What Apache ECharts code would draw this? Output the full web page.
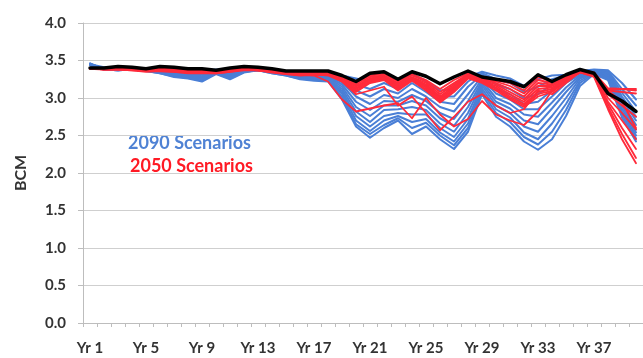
<!DOCTYPE html>
<html>
<head>
<meta charset="utf-8">
<script src="https://cdn.jsdelivr.net/npm/echarts@6/dist/echarts.min.js"></script>
<style>
  html, body { margin: 0; padding: 0; background: #ffffff; }
  #chart { width: 643px; height: 358px; }
</style>
</head>
<body>
<div id="chart"></div>
<script>
// Simulated annual volume (BCM) for each year of the 40-year sequence
var years = [];
for (var y = 1; y <= 40; y++) years.push('Yr ' + y);

var yTicks = [0.0, 0.5, 1.0, 1.5, 2.0, 2.5, 3.0, 3.5, 4.0];

// Baseline run
var baseline = [3.40,3.40,3.42,3.41,3.39,3.42,3.41,3.39,3.39,3.37,3.40,3.42,3.41,3.39,3.36,3.36,3.36,
  3.36,3.30,3.22,3.33,3.35,3.25,3.35,3.29,3.19,3.28,3.36,3.28,3.25,3.22,3.15,3.31,3.22,3.31,3.38,3.33,3.06,2.96,2.82];

// 2090 climate scenarios
var s2090_a = [3.45,3.41,3.41,3.40,3.40,3.40,3.39,3.38,3.36,3.38,3.37,3.40,3.40,3.38,3.36,3.34,3.34,
  3.32,3.30,3.26,3.22,3.28,3.18,3.32,3.22,3.10,3.12,3.28,3.35,3.30,3.26,3.16,3.25,3.30,3.31,3.36,3.38,3.37,3.20,2.98];
var s2090_b = [3.44,3.40,3.40,3.40,3.39,3.39,3.38,3.36,3.34,3.37,3.35,3.39,3.40,3.37,3.35,3.33,3.33,
  3.31,3.27,3.18,3.12,3.20,3.12,3.26,3.16,3.02,3.02,3.22,3.33,3.25,3.20,3.08,3.15,3.25,3.30,3.35,3.37,3.36,3.12,2.90];
var s2090_c = [3.45,3.39,3.39,3.39,3.39,3.38,3.37,3.35,3.33,3.37,3.34,3.38,3.39,3.37,3.35,3.32,3.32,
  3.30,3.24,3.10,3.02,3.12,3.06,3.20,3.08,2.95,2.92,3.15,3.31,3.18,3.12,3.00,3.05,3.18,3.28,3.34,3.37,3.35,3.07,2.82];
var s2090_d = [3.44,3.39,3.38,3.39,3.38,3.37,3.35,3.33,3.31,3.36,3.32,3.38,3.39,3.36,3.34,3.31,3.30,
  3.29,3.21,3.02,2.92,3.04,3.00,3.12,3.02,2.88,2.82,3.05,3.29,3.12,3.05,2.92,2.95,3.10,3.25,3.33,3.36,3.34,3.02,2.75];
var s2090_e = [3.46,3.38,3.38,3.39,3.38,3.36,3.34,3.32,3.29,3.35,3.31,3.37,3.39,3.36,3.33,3.30,3.29,
  3.28,3.18,2.95,2.84,2.96,2.95,3.04,2.96,2.80,2.72,2.96,3.26,3.06,2.98,2.85,2.85,3.02,3.20,3.31,3.36,3.33,2.98,2.70];
var s2090_f = [3.45,3.39,3.38,3.38,3.38,3.35,3.33,3.31,3.28,3.35,3.30,3.37,3.38,3.35,3.33,3.29,3.28,
  3.27,3.15,2.88,2.76,2.90,2.90,2.96,2.90,2.73,2.63,2.88,3.23,3.00,2.92,2.78,2.75,2.94,3.14,3.30,3.35,3.31,2.94,2.64];
var s2090_g = [3.44,3.38,3.37,3.39,3.37,3.35,3.32,3.30,3.27,3.34,3.29,3.36,3.38,3.35,3.32,3.28,3.27,
  3.26,3.12,2.82,2.68,2.84,2.85,2.88,2.84,2.66,2.55,2.80,3.20,2.95,2.86,2.70,2.65,2.86,3.08,3.28,3.35,3.30,2.90,2.58];
var s2090_h = [3.45,3.38,3.37,3.38,3.37,3.34,3.31,3.29,3.26,3.34,3.28,3.36,3.38,3.34,3.32,3.27,3.26,
  3.25,3.09,2.76,2.62,2.76,2.80,2.78,2.78,2.60,2.48,2.72,3.17,2.90,2.80,2.62,2.55,2.76,3.00,3.26,3.34,3.28,2.86,2.54];
var s2090_i = [3.44,3.39,3.38,3.38,3.37,3.34,3.30,3.28,3.25,3.33,3.27,3.35,3.37,3.34,3.31,3.27,3.25,
  3.24,3.06,2.70,2.56,2.70,2.76,2.68,2.72,2.54,2.42,2.66,3.13,2.85,2.74,2.54,2.45,2.66,2.92,3.23,3.34,3.27,2.82,2.50];
var s2090_j = [3.45,3.38,3.37,3.38,3.36,3.33,3.29,3.27,3.23,3.33,3.26,3.35,3.37,3.33,3.30,3.26,3.24,
  3.23,3.02,2.65,2.52,2.64,2.73,2.60,2.67,2.50,2.37,2.60,3.09,2.80,2.68,2.48,2.38,2.55,2.84,3.20,3.33,3.25,2.78,2.46];
var s2090_k = [3.46,3.38,3.37,3.38,3.36,3.33,3.28,3.26,3.22,3.32,3.25,3.34,3.37,3.33,3.30,3.25,3.23,
  3.22,2.98,2.62,2.47,2.60,2.70,2.52,2.62,2.45,2.32,2.55,3.05,2.75,2.62,2.42,2.31,2.45,2.76,3.16,3.32,3.24,2.74,2.42];

// 2050 climate scenarios
var s2050_a = [3.40,3.40,3.40,3.40,3.38,3.39,3.38,3.37,3.37,3.36,3.38,3.40,3.39,3.37,3.35,3.34,3.34,
  3.35,3.30,3.20,3.30,3.32,3.22,3.32,3.24,3.12,3.24,3.33,3.28,3.24,3.20,3.10,3.28,3.22,3.30,3.37,3.34,3.13,3.12,3.12];
var s2050_b = [3.40,3.39,3.40,3.39,3.37,3.38,3.38,3.36,3.36,3.35,3.37,3.39,3.39,3.36,3.34,3.33,3.34,
  3.34,3.28,3.18,3.28,3.30,3.20,3.30,3.22,3.08,3.20,3.32,3.26,3.22,3.16,3.06,3.24,3.20,3.28,3.37,3.33,3.10,3.08,3.06];
var s2050_c = [3.39,3.39,3.39,3.39,3.37,3.38,3.37,3.36,3.36,3.35,3.37,3.39,3.38,3.36,3.34,3.33,3.33,
  3.34,3.27,3.16,3.26,3.29,3.18,3.28,3.20,3.05,3.18,3.31,3.25,3.20,3.12,3.02,3.20,3.18,3.27,3.36,3.32,3.05,2.90,2.75];
var s2050_d = [3.40,3.39,3.39,3.38,3.37,3.37,3.37,3.35,3.35,3.34,3.36,3.39,3.38,3.36,3.33,3.32,3.33,
  3.33,3.26,3.15,3.25,3.28,3.16,3.27,3.18,3.02,3.16,3.30,3.24,3.18,3.08,2.98,3.16,3.16,3.26,3.36,3.31,3.00,2.80,2.58];
var s2050_e = [3.39,3.39,3.39,3.38,3.36,3.37,3.36,3.35,3.35,3.34,3.36,3.38,3.38,3.35,3.33,3.32,3.32,
  3.33,3.25,3.13,3.24,3.27,3.15,3.26,3.16,3.00,3.14,3.29,3.23,3.16,3.05,2.95,3.12,3.14,3.25,3.35,3.30,2.95,2.70,2.45];
var s2050_f = [3.40,3.38,3.38,3.38,3.36,3.37,3.36,3.34,3.34,3.34,3.36,3.38,3.37,3.35,3.33,3.31,3.32,
  3.32,3.24,3.12,3.22,3.26,3.14,3.25,3.14,2.98,3.12,3.28,3.22,3.14,3.02,2.92,3.08,3.12,3.24,3.35,3.30,2.92,2.60,2.32];
var s2050_g = [3.39,3.38,3.38,3.37,3.36,3.36,3.35,3.34,3.34,3.33,3.35,3.38,3.37,3.35,3.32,3.31,3.31,
  3.32,3.23,3.10,3.21,3.25,3.12,3.24,3.12,2.96,3.10,3.27,3.21,3.12,3.00,2.90,3.05,3.10,3.23,3.34,3.29,2.88,2.52,2.20];
var s2050_h = [3.40,3.38,3.38,3.37,3.35,3.36,3.35,3.33,3.33,3.33,3.35,3.37,3.37,3.34,3.32,3.30,3.31,
  3.31,3.22,3.08,3.20,3.24,3.10,3.23,3.10,2.94,3.08,3.26,3.20,3.10,2.98,2.88,3.02,3.08,3.22,3.34,3.28,2.85,2.45,2.13];
var s2050_i = [3.39,3.39,3.39,3.38,3.36,3.37,3.36,3.34,3.34,3.34,3.36,3.38,3.37,3.35,3.33,3.31,3.30,
  3.22,2.98,2.82,2.86,2.90,2.93,2.73,3.00,2.78,2.62,2.72,2.96,2.78,2.70,2.64,2.82,3.10,3.25,3.34,3.33,3.10,2.95,2.60];
var s2050_j = [3.40,3.39,3.39,3.38,3.36,3.37,3.36,3.35,3.35,3.34,3.36,3.38,3.38,3.35,3.33,3.32,3.32,
  3.30,3.22,3.05,3.10,3.15,2.90,3.02,2.80,2.57,2.75,2.95,3.05,2.90,2.80,2.85,3.10,3.05,3.20,3.35,3.32,3.12,3.12,3.10];

var runs2090 = [s2090_a, s2090_b, s2090_c, s2090_d, s2090_e, s2090_f, s2090_g, s2090_h, s2090_i, s2090_j, s2090_k];
var runs2050 = [s2050_a, s2050_b, s2050_c, s2050_d, s2050_e, s2050_f, s2050_g, s2050_h, s2050_i, s2050_j];

var BLUE = '#4a7fd6';
var RED = '#ff2a3a';
var LABEL_FONT = 'Lato';

function lineSeries(data, color, width, z) {
  return {
    type: 'line', data: data, symbol: 'none', smooth: false,
    lineStyle: { color: color, width: width, join: 'round', cap: 'round' },
    z: z, silent: true
  };
}

var series = [];
runs2090.forEach(function (d) { series.push(lineSeries(d, BLUE, 2, 2)); });
runs2050.forEach(function (d) { series.push(lineSeries(d, RED, 1.8, 3)); });
series.push(lineSeries(baseline, '#000000', 3.5, 4));

var chart = echarts.init(document.getElementById('chart'), null, { renderer: 'canvas' });
chart.setOption({
  animation: false,
  backgroundColor: '#ffffff',
  grid: { left: 83, top: 23, width: 563, height: 300, containLabel: false },
  xAxis: {
    type: 'category', data: years, boundaryGap: true,
    axisLine: { lineStyle: { color: '#bdbdbd', width: 1 } },
    axisTick: { show: true, interval: 0, length: 4, inside: false, lineStyle: { color: '#bdbdbd' } },
    axisLabel: { interval: 3, margin: 18, color: '#333333', fontFamily: LABEL_FONT, fontWeight: 'bold', fontSize: 15 },
    splitLine: { show: false }
  },
  yAxis: {
    type: 'value', min: yTicks[0], max: yTicks[yTicks.length - 1], interval: 0.5,
    name: 'BCM', nameLocation: 'middle', nameGap: 54, nameRotate: 90,
    nameTextStyle: { color: '#333333', fontFamily: LABEL_FONT, fontWeight: 'bold', fontSize: 16 },
    axisLine: { show: true, lineStyle: { color: '#bdbdbd', width: 1 } },
    axisTick: { show: true, length: 5, inside: false, lineStyle: { color: '#bdbdbd' } },
    axisLabel: { margin: 17, color: '#333333', fontFamily: LABEL_FONT, fontWeight: 'bold', fontSize: 15,
      formatter: function (v) { return v.toFixed(1); } },
    splitLine: { show: true, lineStyle: { color: '#cfcfcf', width: 1.2 } }
  },
  graphic: [{
    type: 'group', left: 118, top: 129, z: 10,
    children: [
      { type: 'rect', shape: { x: 0, y: 0, width: 148, height: 49 }, style: { fill: '#ffffff' } },
      { type: 'text', x: 10, y: 14, style: { text: '2090 Scenarios', fill: '#4f82d4', font: 'bold 18px Lato', textVerticalAlign: 'middle' } },
      { type: 'text', x: 12, y: 37, style: { text: '2050 Scenarios', fill: '#ff1a24', font: 'bold 18px Lato', textVerticalAlign: 'middle' } }
    ]
  }],
  series: series
});
</script>
</body>
</html>
